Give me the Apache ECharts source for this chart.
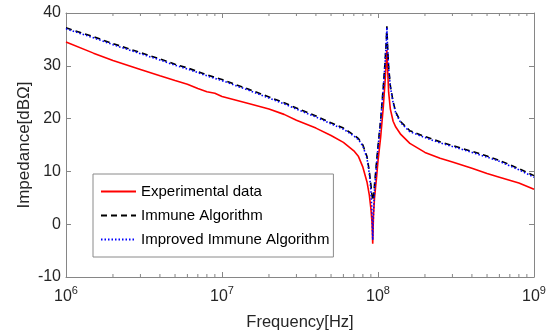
<!DOCTYPE html>
<html>
<head>
<meta charset="utf-8">
<title>Impedance</title>
<script src="https://cdn.jsdelivr.net/npm/echarts@6.0.0/dist/echarts.min.js"></script>
<style>
body { margin: 0; background: #fff; }
#container_chart { width: 550px; height: 336px; }
</style>
</head>
<body>
<div id="container_chart"></div>
<script>
// frequency points [Hz]
var freq = [1e6, 1.5e6, 2e6, 3e6, 4e6, 5e6, 6e6, 7e6, 8e6, 9e6,
	1e7, 1.5e7, 2e7, 2.5e7, 3e7, 4e7, 5e7, 6e7, 7e7, 7.5e7,
	8e7, 8.5e7, 8.8e7, 9e7, 9.15e7, 9.25e7, 9.35e7, 9.5e7, 9.8e7, 1e8,
	1.04e8, 1.08e8, 1.11e8, 1.13e8, 1.14e8, 1.15e8, 1.17e8, 1.2e8, 1.25e8, 1.3e8,
	1.4e8, 1.6e8, 2e8, 2.5e8, 3e8, 4e8, 5e8, 6e8, 8e8, 1e9];

// impedance [dBΩ]
var experimental = [34.5, 32.4, 31.0, 29.3, 28.1, 27.2, 26.5, 25.7, 25.1, 24.8,
	24.2, 22.8, 21.8, 20.8, 19.7, 18.2, 16.8, 15.5, 13.9, 12.8,
	10.8, 8.0, 5.5, 3.0, 0.5, -3.7, 1.5, 5.0, 9.0, 12.0,
	16.5, 22.0, 27.0, 31.0, 33.0, 30.0, 25.0, 21.8, 19.5, 18.4,
	17.0, 15.3, 13.6, 12.5, 11.8, 10.6, 9.6, 8.9, 7.8, 6.6];

var immune = [37.2, 35.5, 34.2, 32.5, 31.3, 30.3, 29.6, 28.9, 28.3, 27.8,
	27.4, 25.5, 24.1, 23.0, 22.0, 20.5, 19.2, 18.2, 16.9, 16.2,
	15.0, 12.8, 10.0, 7.5, 5.5, 4.5, 5.0, 7.5, 12.0, 14.8,
	19.8, 25.8, 30.8, 34.8, 37.5, 34.2, 29.8, 26.2, 23.2, 21.2,
	19.4, 17.7, 16.6, 15.6, 14.9, 13.8, 12.9, 12.1, 10.5, 9.2];

var improved = [37.0, 35.3, 34.0, 32.3, 31.1, 30.1, 29.4, 28.7, 28.1, 27.6,
	27.2, 25.3, 23.9, 22.8, 21.8, 20.3, 19.0, 18.0, 16.7, 16.0,
	14.8, 12.5, 9.5, 6.5, 2.5, -3.0, 2.0, 6.5, 11.5, 14.5,
	19.5, 25.5, 30.5, 34.5, 37.3, 34.0, 29.5, 26.0, 23.0, 21.0,
	19.2, 17.5, 16.4, 15.4, 14.7, 13.6, 12.7, 11.9, 10.3, 8.9];

// minor ticks of the log axis
var minor_ticks = [2e6, 3e6, 4e6, 5e6, 6e6, 7e6, 8e6, 9e6,
	2e7, 3e7, 4e7, 5e7, 6e7, 7e7, 8e7, 9e7,
	2e8, 3e8, 4e8, 5e8, 6e8, 7e8, 8e8, 9e8];

var legend_names = ['Experimental data', 'Immune Algorithm', 'Improved Immune Algorithm'];

function pairs(xs, ys)
{
	var out = [];
	for (var i = 0; i < xs.length; i++) {
		out.push([xs[i], ys[i]]);
	}
	return out;
}

var axis_color = '#868686';
var text_color = '#262626';
var font = 'Liberation Sans, Arial, sans-serif';

var dom = document.getElementById("container_chart");
var myChart = echarts.init(dom);
var option = {
	backgroundColor: '#fff',
	animation: false,
	textStyle: { fontFamily: font },
	grid: { left: 66, right: 16, top: 13, bottom: 56 },
	legend: {
		data: legend_names,
		orient: 'vertical',
		left: 93,
		top: 174,
		backgroundColor: '#fff',
		borderColor: '#8a8a8a',
		borderWidth: 1,
		borderRadius: 0,
		padding: [10, 4, 10, 7],
		itemGap: 9,
		itemWidth: 35,
		itemHeight: 14,
		itemStyle: { opacity: 0 },
		textStyle: { fontFamily: font, fontSize: 15, color: '#000' }
	},
	xAxis: [
		{
			type: 'log',
			logBase: 10,
			min: 1e6,
			max: 1e9,
			name: 'Frequency[Hz]',
			nameLocation: 'middle',
			nameGap: 37,
			nameMoveOverlap: false,
			nameTextStyle: { fontSize: 16.5, color: text_color, fontFamily: font },
			axisLine: { onZero: false, lineStyle: { color: axis_color, width: 1 } },
			axisTick: { inside: true, length: 5, lineStyle: { color: axis_color } },
			splitLine: { show: false },
			axisLabel: {
				margin: 8,
				formatter: function (v) {
					var e = Math.round(Math.log(v) / Math.LN10);
					return '{b|10}{s|' + e + '}';
				},
				rich: {
					b: { fontSize: 16, color: text_color, fontFamily: font, lineHeight: 20, verticalAlign: 'bottom' },
					s: { fontSize: 11, color: text_color, fontFamily: font, verticalAlign: 'top' }
				}
			}
		},
		{
			type: 'log',
			logBase: 10,
			min: 1e6,
			max: 1e9,
			position: 'top',
			axisLine: { onZero: false, lineStyle: { color: axis_color, width: 1 } },
			axisTick: { inside: true, length: 5, lineStyle: { color: axis_color } },
			axisLabel: { show: false },
			splitLine: { show: false }
		}
	],
	yAxis: [
		{
			type: 'value',
			min: -10,
			max: 40,
			interval: 10,
			name: 'Impedance[dBΩ]',
			nameLocation: 'middle',
			nameGap: 33,
			nameMoveOverlap: false,
			nameTextStyle: { fontSize: 17, color: text_color, fontFamily: font },
			axisLine: { show: true, onZero: false, lineStyle: { color: axis_color, width: 1 } },
			axisTick: { show: true, inside: true, length: 5, lineStyle: { color: axis_color } },
			splitLine: { show: false },
			axisLabel: { fontSize: 16, color: text_color, margin: 5 }
		},
		{
			type: 'value',
			min: -10,
			max: 40,
			interval: 10,
			position: 'right',
			axisLine: { show: true, onZero: false, lineStyle: { color: axis_color, width: 1 } },
			axisTick: { show: true, inside: true, length: 5, lineStyle: { color: axis_color } },
			axisLabel: { show: false },
			splitLine: { show: false }
		}
	],
	series: [
		{
			name: 'minor',
			type: 'custom',
			silent: true,
			clip: false,
			data: minor_ticks.map(function (f) { return [f]; }),
			renderItem: function (params, api) {
				var bottom = api.coord([api.value(0), -10]);
				var top = api.coord([api.value(0), 40]);
				var style = { stroke: axis_color, lineWidth: 1 };
				return {
					type: 'group',
					children: [
						{ type: 'line', shape: { x1: bottom[0], y1: bottom[1], x2: bottom[0], y2: bottom[1] - 3 }, style: style },
						{ type: 'line', shape: { x1: top[0], y1: top[1], x2: top[0], y2: top[1] + 3 }, style: style }
					]
				};
			}
		},
		{
			name: legend_names[0],
			type: 'line',
			symbol: 'none',
			data: pairs(freq, experimental),
			lineStyle: { color: '#ff0000', width: 1.6 },
			itemStyle: { color: '#ff0000' }
		},
		{
			name: legend_names[1],
			type: 'line',
			symbol: 'none',
			data: pairs(freq, immune),
			lineStyle: { color: '#000000', width: 1.6, type: [6, 4] },
			itemStyle: { color: '#000000' }
		},
		{
			name: legend_names[2],
			type: 'line',
			symbol: 'none',
			data: pairs(freq, improved),
			lineStyle: { color: '#0000ff', width: 1.6, type: [1.5, 2] },
			itemStyle: { color: '#0000ff' }
		}
	]
};
myChart.setOption(option, true);
</script>
</body>
</html>
